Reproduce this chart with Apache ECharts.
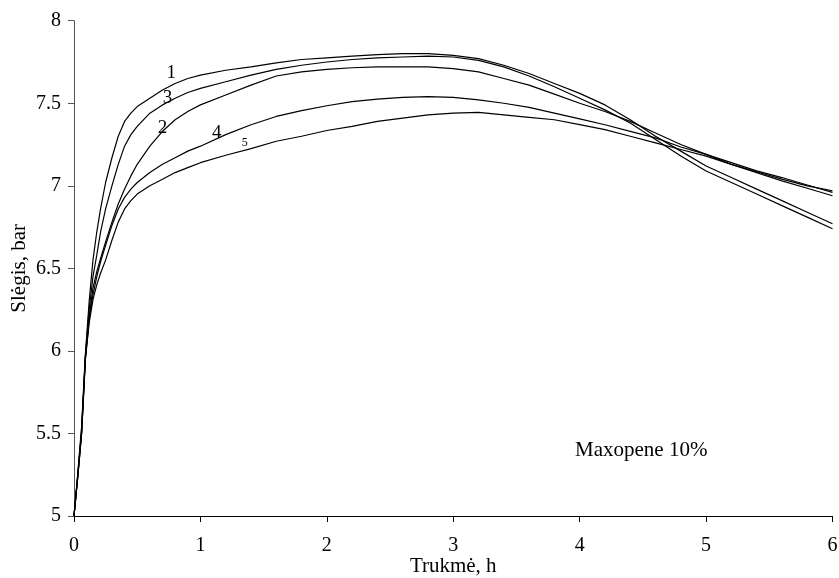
<!DOCTYPE html>
<html>
<head>
<meta charset="utf-8">
<script src="https://cdn.jsdelivr.net/npm/echarts@6/dist/echarts.min.js"></script>
<style>html,body{margin:0;padding:0;background:#fff}#c{width:839px;height:578px}</style>
</head>
<body>
<div id="c"></div>
<script>
// Time, h (shared by all curves)
const time = [0, 0.03, 0.06, 0.09, 0.12, 0.15, 0.18, 0.21, 0.25, 0.3, 0.35, 0.4, 0.45, 0.5, 0.6, 0.7, 0.8, 0.9, 1.0, 1.2, 1.4, 1.6, 1.8, 2.0, 2.2, 2.4, 2.6, 2.8, 3.0, 3.2, 3.4, 3.6, 3.8, 4.0, 4.2, 4.4, 4.6, 4.8, 5.0, 5.2, 5.4, 5.6, 5.8, 6.0];
// Pressure, bar
const p1 = [5.00, 5.26, 5.54, 5.98, 6.30, 6.55, 6.72, 6.86, 7.02, 7.17, 7.30, 7.39, 7.44, 7.48, 7.53, 7.58, 7.62, 7.65, 7.67, 7.70, 7.72, 7.745, 7.765, 7.775, 7.785, 7.795, 7.80, 7.80, 7.79, 7.77, 7.73, 7.68, 7.62, 7.56, 7.49, 7.40, 7.30, 7.21, 7.12, 7.05, 6.98, 6.91, 6.84, 6.77];
const p2 = [5.00, 5.24, 5.50, 5.96, 6.21, 6.38, 6.48, 6.56, 6.66, 6.78, 6.89, 6.98, 7.06, 7.13, 7.24, 7.33, 7.40, 7.45, 7.49, 7.55, 7.61, 7.665, 7.69, 7.705, 7.715, 7.72, 7.72, 7.72, 7.71, 7.69, 7.65, 7.61, 7.555, 7.50, 7.45, 7.39, 7.32, 7.25, 7.19, 7.13, 7.08, 7.03, 6.985, 6.94];
const p3 = [5.00, 5.25, 5.52, 5.97, 6.25, 6.45, 6.58, 6.72, 6.86, 7.00, 7.13, 7.24, 7.31, 7.36, 7.44, 7.49, 7.53, 7.565, 7.59, 7.63, 7.67, 7.705, 7.73, 7.75, 7.765, 7.775, 7.78, 7.785, 7.78, 7.76, 7.72, 7.665, 7.60, 7.53, 7.46, 7.38, 7.28, 7.18, 7.09, 7.02, 6.95, 6.88, 6.81, 6.74];
const p4 = [5.00, 5.24, 5.50, 5.95, 6.19, 6.34, 6.45, 6.54, 6.64, 6.76, 6.86, 6.93, 6.98, 7.02, 7.08, 7.13, 7.17, 7.21, 7.24, 7.31, 7.37, 7.42, 7.455, 7.485, 7.51, 7.525, 7.535, 7.54, 7.535, 7.52, 7.50, 7.475, 7.44, 7.405, 7.37, 7.33, 7.29, 7.235, 7.19, 7.14, 7.09, 7.05, 7.005, 6.96];
const p5 = [5.00, 5.24, 5.50, 5.95, 6.17, 6.31, 6.40, 6.47, 6.55, 6.67, 6.78, 6.86, 6.91, 6.95, 7.00, 7.04, 7.08, 7.11, 7.14, 7.185, 7.225, 7.27, 7.30, 7.335, 7.36, 7.39, 7.41, 7.43, 7.44, 7.445, 7.43, 7.415, 7.40, 7.37, 7.34, 7.30, 7.26, 7.22, 7.18, 7.13, 7.085, 7.04, 7.00, 6.97];
// Curve number labels and their anchor points [time, pressure]
const curveNames = ['1', '2', '3', '4', '5'];
const labelPos = [[0.77, 7.685], [0.70, 7.35], [0.74, 7.53], [1.13, 7.32], [1.35, 7.26]];
const labelSize = [19, 19, 19, 19, 12];
const xTicks = [0, 1, 2, 3, 4, 5, 6];
const yTicks = [5, 5.5, 6, 6.5, 7, 7.5, 8];

const FONT = '"Liberation Serif", "Times New Roman", serif';
const allP = [p1, p2, p3, p4, p5];

const series = allP.map((p, i) => ({
  type: 'line',
  name: curveNames[i],
  data: time.map((t, k) => [t, p[k]]),
  showSymbol: false,
  symbol: 'none',
  smooth: false,
  lineStyle: { color: '#000', width: 1.2 },
  z: 3,
  markPoint: {
    symbol: 'circle',
    symbolSize: 0,
    data: [{ coord: labelPos[i], value: curveNames[i] }],
    label: {
      show: true, position: 'inside', color: '#000',
      fontFamily: FONT, fontSize: labelSize[i],
      formatter: () => curveNames[i]
    }
  }
}));

const chart = echarts.init(document.getElementById('c'), null, { renderer: 'canvas' });
chart.setOption({
  animation: false,
  backgroundColor: '#fff',
  grid: { left: 74, right: 6.5, top: 20.7, bottom: 62, containLabel: false, outerBoundsMode: 'none' },
  xAxis: {
    type: 'value', min: xTicks[0], max: xTicks[xTicks.length - 1], interval: 1,
    name: 'Trukmė, h', nameLocation: 'middle', nameGap: 40, nameMoveOverlap: false,
    nameTextStyle: { fontFamily: FONT, fontSize: 21, color: '#000' },
    axisLine: { show: true, onZero: false, lineStyle: { color: '#000', width: 1 } },
    axisTick: { show: true, length: 6, inside: false, lineStyle: { color: '#000' } },
    axisLabel: { fontFamily: FONT, fontSize: 20, color: '#000', margin: 20 },
    splitLine: { show: false }
  },
  yAxis: {
    type: 'value', min: yTicks[0], max: yTicks[yTicks.length - 1], interval: 0.5,
    name: 'Slėgis, bar', nameLocation: 'middle', nameGap: 44, nameMoveOverlap: false,
    nameTextStyle: { fontFamily: FONT, fontSize: 21, color: '#000' },
    axisLine: { show: true, onZero: false, lineStyle: { color: '#555', width: 1 } },
    axisTick: { show: true, length: 6, inside: false, lineStyle: { color: '#555' } },
    axisLabel: { fontFamily: FONT, fontSize: 20, color: '#000', margin: 13 },
    splitLine: { show: false }
  },
  graphic: [{
    type: 'text', left: 575, top: 440,
    style: { text: 'Maxopene 10%', font: '21px ' + FONT, fill: '#000' }
  }],
  series: series
});
</script>
</body>
</html>
